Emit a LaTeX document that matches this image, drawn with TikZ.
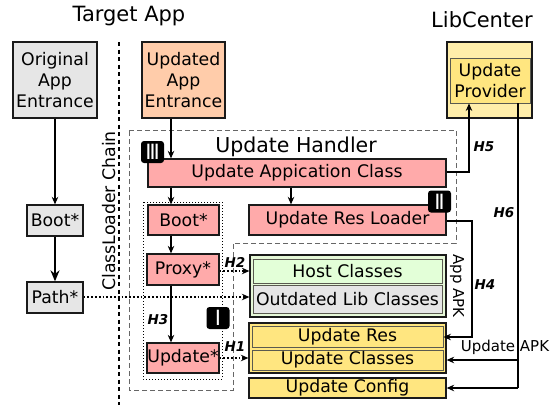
\documentclass[tikz,border=0pt]{standalone}
\usepackage{fontspec}
\setmainfont{DejaVu Sans}
\usetikzlibrary{arrows.meta}
\definecolor{pinkc}{HTML}{FFAAAA}
\definecolor{grayc}{HTML}{E6E6E6}
\definecolor{orangec}{HTML}{FFCCAA}
\definecolor{lyellow}{HTML}{FFEEAA}
\definecolor{yellowc}{HTML}{FFE680}
\definecolor{greenc}{HTML}{E3FFD8}
\definecolor{greeno}{HTML}{E6F8D8}
\definecolor{edgec}{HTML}{1A1A1A}
\definecolor{inedge}{HTML}{5A5A50}
\tikzset{
  box/.style={draw=edgec, line width=1.3pt, inner sep=0pt, align=center, font=\fontsize{17.3}{21}\selectfont},
  inbox/.style={draw=inedge, line width=0.9pt, inner sep=0pt, align=center, font=\fontsize{17.3}{21}\selectfont},
  grp/.style={draw=edgec, line width=1.3pt, inner sep=0pt},
  badge/.style={fill=black, rounded corners=3pt, minimum width=23pt, minimum height=22pt, inner sep=0pt, text=white, font=\fontsize{21}{21}\selectfont},
  conn/.style={line width=1.2pt, -{Stealth[length=7.5pt,width=6.5pt]}},
  thickconn/.style={line width=2.2pt, -{Stealth[length=11pt,width=9pt]}},
  dotconn/.style={line width=1.8pt, dotted, -{Stealth[length=7.5pt,width=6.5pt]}},
  hlab/.style={font=\fontsize{13.5}{14}\selectfont\bfseries\itshape, inner sep=0pt},
  title/.style={font=\fontsize{21}{22}\selectfont, inner sep=0pt, anchor=base},
}
\begin{document}
\begin{tikzpicture}[x=1pt,y=-1pt]
\useasboundingbox (0,0) rectangle (560,405);

% titles
\node[title] (ttarget) at (129,21) {Target App};
\node[title] (tlib) at (482,27) {LibCenter};
\node[title, font=\fontsize{20.5}{22}\selectfont] (thandler) at (296,152) {Update Handler};

% separators / groups
\coordinate (sepT) at (119,42);
\coordinate (sepB) at (119,405);
\draw[line width=2pt, dash pattern=on 4pt off 3.5pt] (sepT) -- (sepB);
\draw[draw=black!60, line width=1pt, dash pattern=on 5pt off 3pt]
  (129,130) -- (456,130) -- (456,243) -- (233,243) -- (233,390) -- (129,390) -- cycle;
\draw[line width=1pt, dotted] (143,202) rectangle (222,379);

\node[rotate=90, font=\fontsize{17.3}{17}\selectfont, inner sep=0pt] (clc) at (109,211) {ClassLoader Chain};

% left column
\node[box, fill=grayc, minimum width=84pt, minimum height=76pt] (orig) at (55,80) {Original\\App\\Entrance};
\node[box, fill=grayc, minimum width=56pt, minimum height=31pt] (gboot) at (55,220.5) {Boot*};
\node[box, fill=grayc, minimum width=56pt, minimum height=31pt] (path) at (55,297.5) {Path*};

% updated entrance and handler
\node[box, fill=orangec, minimum width=83pt, minimum height=76pt] (upd) at (183.5,80) {Updated\\App\\Entrance};
\node[box, fill=pinkc, minimum width=298pt, minimum height=28pt] (uac) at (297,173) {Update Appication Class};
\node[box, fill=pinkc, minimum width=71pt, minimum height=30pt] (pboot) at (183.5,220) {Boot*};
\node[box, fill=pinkc, minimum width=197pt, minimum height=30pt] (url) at (347.5,220) {Update Res Loader};
\node[box, fill=pinkc, minimum width=72pt, minimum height=31pt] (proxy) at (183,269.5) {Proxy*};
\node[box, fill=pinkc, minimum width=72pt, minimum height=30pt] (upds) at (183,358) {Update*};

% LibCenter
\node[grp, fill=lyellow, minimum width=85pt, minimum height=76pt] (libc) at (489.5,80) {};
\node[inbox, fill=yellowc, minimum width=80pt, minimum height=45pt] (prov) at (490,80.5) {Update\\Provider};

% App APK
\node[grp, fill=greeno, minimum width=196pt, minimum height=62pt] (apk) at (348,286) {};
\node[inbox, fill=greenc, minimum width=189pt, minimum height=24pt] (host) at (347.5,271) {Host Classes};
\node[inbox, fill=grayc, minimum width=189pt, minimum height=28pt] (outd) at (347.5,299) {Outdated Lib Classes};
\node[rotate=-90, font=\fontsize{15}{15}\selectfont, inner sep=0pt] (apklab) at (457,286) {App APK};

% update group
\node[grp, fill=yellowc, minimum width=197pt, minimum height=50pt] (ugrp) at (347.5,348) {};
\node[inbox, fill=yellowc, minimum width=191pt, minimum height=21pt] (ures) at (347.5,336.5) {Update Res};
\node[inbox, fill=yellowc, minimum width=191pt, minimum height=20pt] (ucls) at (347.5,360) {Update Classes};
\node[box, fill=yellowc, minimum width=197pt, minimum height=20pt] (ucfg) at (347.5,388) {Update Config};

% badges
\node[badge] (b3) at (152.5,152) {Ⅲ};
\node[badge] (b2) at (439.5,201.5) {Ⅱ};
\node[badge] (b1) at (218,318) {Ⅰ};

% connector helper coordinates
\coordinate (ax) at (171,0);
\coordinate (bx) at (291,0);
\coordinate (h5x) at (469,0);
\coordinate (h4x) at (472,0);
\coordinate (h6x) at (518,0);
\coordinate (yH4) at (0,221);
\coordinate (yRes) at (0,337);
\coordinate (yCls) at (0,360);
\coordinate (yCfg) at (0,388);
\coordinate (yH5) at (0,172);
\coordinate (yP) at (0,271);
\coordinate (yO) at (0,297);
\coordinate (yU) at (0,358);

% left column arrows
\draw[conn] (orig.south) -- (gboot.north);
\draw[thickconn] (gboot.south) -- (path.north);
\draw[dotconn] (path.east |- yO) -- (apk.west |- yO);

% handler arrows
\draw[conn] (upd.south -| ax) -- (uac.north -| ax);
\draw[conn] (uac.south -| ax) -- (pboot.north -| ax);
\draw[conn] (uac.south -| bx) -- (url.north -| bx);
\draw[conn] (pboot.south -| ax) -- (proxy.north -| ax);
\draw[conn] (proxy.south -| ax) -- (upds.north -| ax);
\draw[dotconn] (proxy.east |- yP) -- (apk.west |- yP);
\draw[dotconn] (upds.east |- yU) -- (ugrp.west |- yU);

% H5
\draw[conn] (uac.east |- yH5) -- (h5x |- yH5) -- (prov.south -| h5x);
% H4
\draw[conn] (url.east |- yH4) -- (h4x |- yH4) -- (h4x |- yRes) -- (ures.east |- yRes);
% H6
\draw[line width=1.2pt] (prov.south -| h6x) -- (h6x |- yCfg);
\draw[conn] (h6x |- yCls) -- (ugrp.east |- yCls);
\draw[conn] (h6x |- yCfg) -- (ucfg.east |- yCfg);

% labels
\node[hlab] (lh5) at (484,147) {H5};
\node[hlab] (lh6) at (504,213) {H6};
\node[hlab] (lh4) at (485,285) {H4};
\node[hlab] (lh2) at (235,262) {H2};
\node[hlab] (lh1) at (235,347) {H1};
\node[hlab] (lh3) at (158,320) {H3};
\node[font=\fontsize{15}{15}\selectfont, inner sep=0pt] (uapk) at (505,347) {Update APK};
\end{tikzpicture}
\end{document}
